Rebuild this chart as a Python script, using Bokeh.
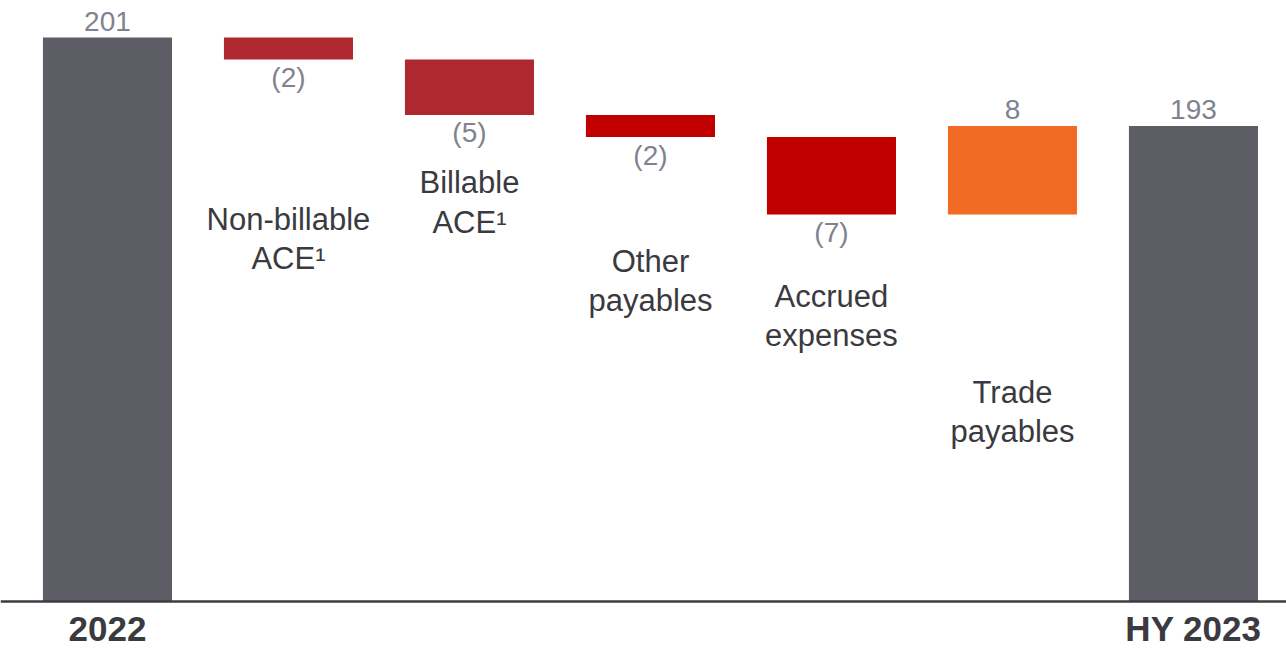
from bokeh.plotting import figure
from bokeh.models import Range1d, Span, ColumnDataSource
from bokeh.core.properties import value
from bokeh.embed import file_html
from bokeh.resources import INLINE

# ---- data ----
steps = ["2022", "Non-billable\nACE¹", "Billable\nACE¹", "Other\npayables",
         "Accrued\nexpenses", "Trade\npayables", "HY 2023"]
amounts = [201, -2, -5, -2, -7, 8, 193]
kinds = ["total", "delta", "delta", "delta", "delta", "delta", "total"]
year_labels = ["2022", "HY 2023"]
year_index = [0, 6]

# ---- styling / layout ----
colors = ["#5d5d66", "#b0282f", "#b0282f", "#c00000", "#c00000", "#f26b25", "#5d5d66"]
axis_base = 150          # value axis is broken: bars start at 150
label_y = [None, 182.78, 186.08, 178.98, 175.82, 167.14, None]
FONT = "Liberation Sans"

# waterfall geometry
xs, bottoms, tops, vtext, vy, vbase = [], [], [], [], [], []
running = 0
for i, (a, k) in enumerate(zip(amounts, kinds)):
    if k == "total":
        lo, hi = axis_base, a
        running = a
    else:
        start = running
        running = running + a
        lo, hi = min(start, running), max(start, running)
    xs.append(i)
    bottoms.append(lo)
    tops.append(hi)
    if a < 0:
        vtext.append("(%d)" % abs(a))
        vy.append(lo)
        vbase.append("below")
    else:
        vtext.append("%d" % a)
        vy.append(hi)
        vbase.append("above")

p = figure(width=1286, height=648, output_backend="svg", toolbar_location=None,
           x_range=Range1d(-0.591, 6.514), y_range=Range1d(145.755, 204.345),
           min_border=0)
p.axis.visible = False
p.grid.visible = False
p.outline_line_color = None
p.background_fill_color = "white"

src = ColumnDataSource(dict(x=xs, bottom=bottoms, top=tops, color=colors))
p.vbar(x="x", bottom="bottom", top="top", width=0.713, fill_color="color",
       line_color=None, source=src)

p.add_layout(Span(location=axis_base, dimension="width", line_color="#3c3c44",
                  line_width=2.5))

def subset(which):
    return ColumnDataSource(dict(
        x=[x for x, b in zip(xs, vbase) if b == which],
        y=[y for y, b in zip(vy, vbase) if b == which],
        t=[t for t, b in zip(vtext, vbase) if b == which]))

# value labels
p.text(x="x", y="y", text="t", source=subset("above"), text_align="center",
       text_baseline="middle", y_offset=-16, text_font=value(FONT),
       text_font_size="28px", text_color="#80838f")
p.text(x="x", y="y", text="t", source=subset("below"), text_align="center",
       text_baseline="middle", y_offset=18, text_font=value(FONT),
       text_font_size="28px", text_color="#80838f")

# category labels
cat = ColumnDataSource(dict(x=[i for i, y in enumerate(label_y) if y is not None],
                            y=[y for y in label_y if y is not None],
                            t=[s for s, y in zip(steps, label_y) if y is not None]))
p.text(x="x", y="y", text="t", source=cat, text_align="center",
       text_baseline="middle", y_offset=0, text_font=value(FONT), text_font_size="31px",
       text_color="#3a3a40", text_line_height=1.13)

# year labels
yr = ColumnDataSource(dict(x=year_index, y=[axis_base] * len(year_index), t=year_labels))
p.text(x="x", y="y", text="t", source=yr, text_align="center",
       text_baseline="middle", y_offset=27, text_font=value(FONT), text_font_size="35px",
       text_font_style="bold", text_color="#3a3a40")

open("out.html", "w").write(file_html(p, INLINE))
